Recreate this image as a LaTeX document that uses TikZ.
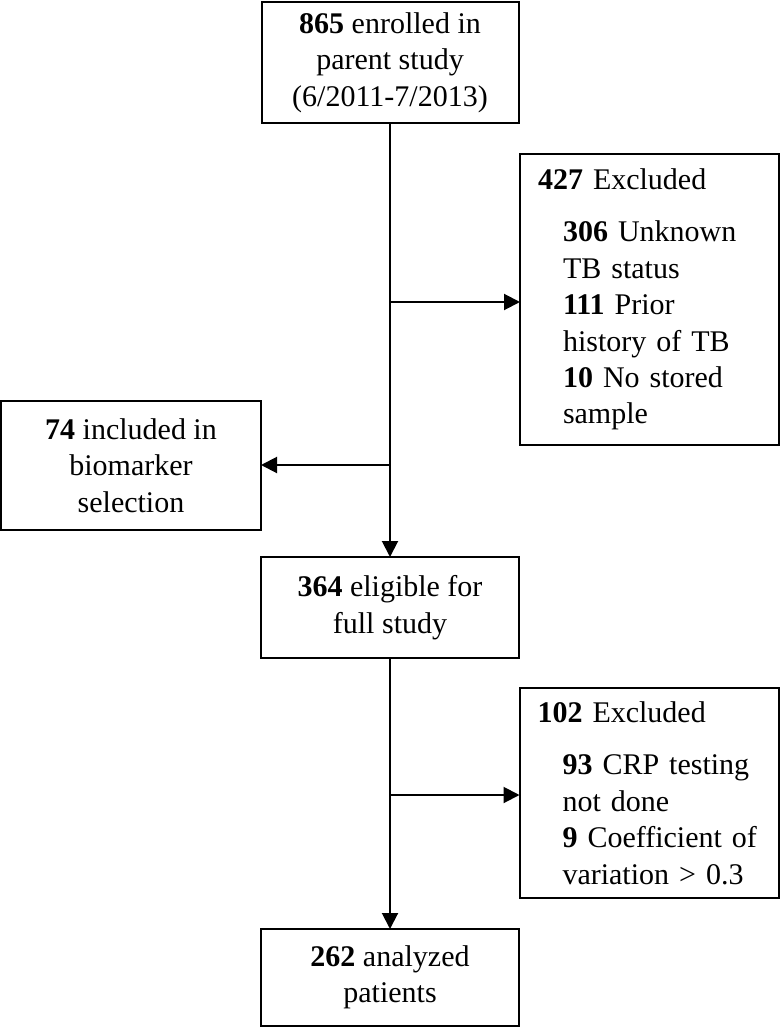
\documentclass[tikz,border=0pt]{standalone}
\usepackage{fontspec}
\setmainfont{Liberation Serif}
\usetikzlibrary{arrows.meta}
\tikzset{>={Triangle[length=8pt,width=8pt]}}
\tikzset{
  box/.style={draw, line width=1pt, outer sep=0pt, align=center, font=\fontsize{15}{18.2}\selectfont},
  exbox/.style={box, align=left, inner xsep=9pt, text width=111.5pt},
  flow/.style={line width=1pt}
}

\begin{document}
\begin{tikzpicture}[x=0.5pt, y=-0.5pt]
    \useasboundingbox (0,0) rectangle (781,1027);
    \node[box, minimum width=128.5pt, minimum height=60.5pt] (enrolled) at (390,62.5) {\textbf{865} enrolled in\\ parent study\\ (6/2011-7/2013)};
    \node[exbox, minimum height=145.5pt] (excluded1) at (649.5,299.5) {\textbf{427} Excluded\\[8pt]
        \hspace*{12.5pt}\textbf{306} Unknown\\ \hspace*{12.5pt}TB status\\ \hspace*{12.5pt}\textbf{111} Prior\\
        \hspace*{12.5pt}history of TB\\ \hspace*{12.5pt}\textbf{10} No stored\\ \hspace*{12.5pt}sample};
    \node[box, minimum width=130pt, minimum height=64.5pt] (biomarker) at (131,465.5) {\textbf{74} included in\\ biomarker\\ selection};
    \node[box, minimum width=129pt, minimum height=50.5pt] (eligible) at (390,607.5) {\textbf{364} eligible for\\ full study};
    \node[exbox, minimum height=105pt] (excluded2) at (649,793) {\textbf{102} Excluded\\[8pt]
        \hspace*{12.5pt}\textbf{93} CRP testing\\ \hspace*{12.5pt}not done\\ \hspace*{12.5pt}\textbf{9} Coefficient of\\
        \hspace*{12.5pt}variation > 0.3};
    \node[box, minimum width=129pt, minimum height=48.5pt] (analyzed) at (390,977.5) {\textbf{262} analyzed\\ patients};

    \coordinate (split1) at (390,302);
    \coordinate (split2) at (390,465);
    \coordinate (split3) at (390,795);
    \draw[->, flow] (enrolled.south) -- (eligible.north);
    \draw[->, flow] (split1) -- (split1 -| excluded1.west);
    \draw[->, flow] (split2) -- (split2 -| biomarker.east);
    \draw[->, flow] (eligible.south) -- (analyzed.north);
    \draw[->, flow] (split3) -- (split3 -| excluded2.west);
\end{tikzpicture}
\end{document}
